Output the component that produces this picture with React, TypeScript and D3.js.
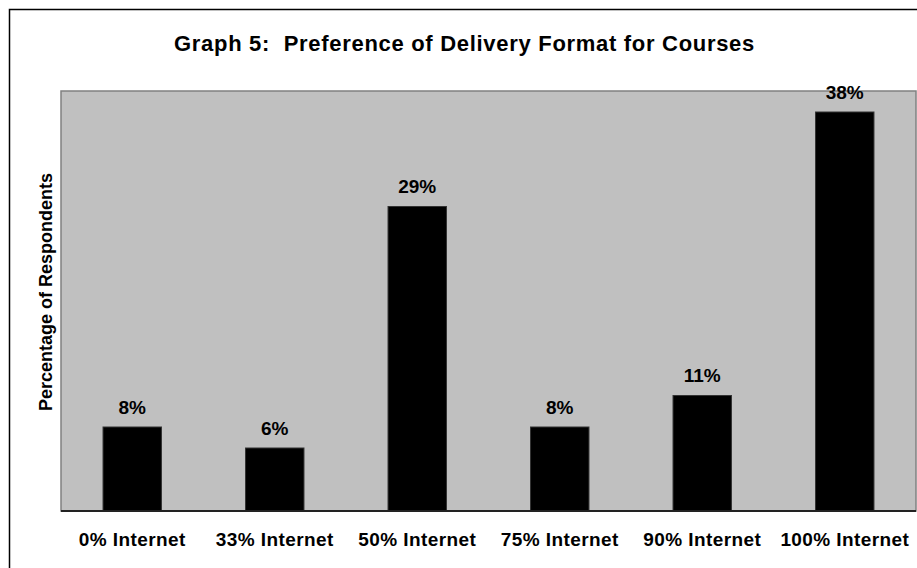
import * as d3 from "d3";

const categories = [
  "0% Internet",
  "33% Internet",
  "50% Internet",
  "75% Internet",
  "90% Internet",
  "100% Internet",
];
const values = [8, 6, 29, 8, 11, 38];
const yDomain = [0, 40];

const title = "Graph 5:  Preference of Delivery Format for Courses";
const yTitle = "Percentage of Respondents";

export default function App() {
  const width = 917;
  const height = 568;
  const plotLeft = 61;
  const plotRight = 916;
  const plotTop = 91;
  const plotBottom = 511;
  const font = "Arial, 'Liberation Sans', Helvetica, sans-serif";

  const x = d3
    .scaleBand<string>()
    .domain(categories)
    .range([plotLeft, plotRight])
    .paddingInner(0.59)
    .paddingOuter(0.295);
  const y = d3.scaleLinear().domain(yDomain).range([plotBottom, plotTop]);

  return (
    <svg
      width={width}
      height={height}
      style={{ position: "absolute", left: 0, top: 0, background: "#fff" }}
      fontFamily={font}
      fontWeight="bold"
    >
      {/* outer frame, runs off the right and bottom edge */}
      <rect x={9.5} y={9.5} width={930} height={600} fill="none" stroke="#000" strokeWidth={1.5} />
      <text
        x={174}
        y={51}
        fontSize={22}
        fill="#000"
        letterSpacing={0.7}
        style={{ whiteSpace: "pre" }}
      >
        {title}
      </text>
      <rect
        x={plotLeft}
        y={plotTop}
        width={plotRight - plotLeft}
        height={plotBottom - plotTop}
        fill="#c0c0c0"
        stroke="#808080"
        strokeWidth={1.5}
      />
      {values.map((v, i) => (
        <g key={categories[i]}>
          <rect
            x={x(categories[i])}
            y={y(v)}
            width={x.bandwidth()}
            height={y(0) - y(v)}
            fill="#000"
            stroke="#333"
            strokeWidth={1}
          />
          <text
            x={x(categories[i])! + x.bandwidth() / 2}
            y={y(v) - 13.5}
            textAnchor="middle"
            fontSize={19}
            fill="#000"
          >
            {v}%
          </text>
          <text
            x={x(categories[i])! + x.bandwidth() / 2}
            y={546}
            textAnchor="middle"
            fontSize={19}
            fill="#000"
            letterSpacing={0.4}
          >
            {categories[i]}
          </text>
        </g>
      ))}
      <line x1={plotLeft} x2={plotRight} y1={plotBottom} y2={plotBottom} stroke="#222" strokeWidth={2} />
      <text
        transform={`translate(52,${(plotTop + plotBottom) / 2 - 9}) rotate(-90)`}
        textAnchor="middle"
        fontSize={18}
        fill="#000"
      >
        {yTitle}
      </text>
    </svg>
  );
}
